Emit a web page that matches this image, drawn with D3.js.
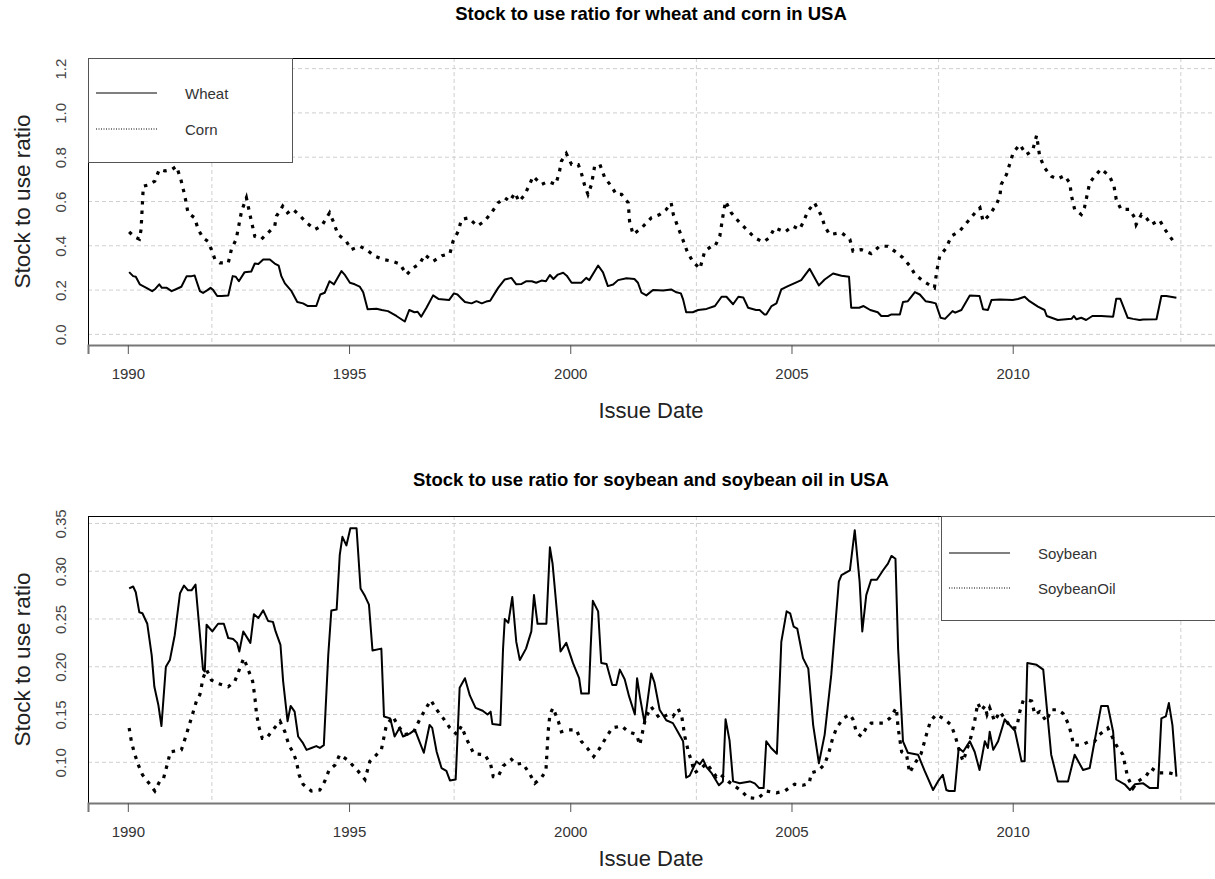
<!DOCTYPE html>
<html><head><meta charset="utf-8">
<script src="https://cdn.jsdelivr.net/npm/d3@7"></script>
<style>body{margin:0;background:#fff}svg{display:block}text{font-family:"Liberation Sans",Arial,sans-serif}</style>
</head><body><svg id="c" width="1215" height="879"></svg>
<script>
const xTicks = [1990, 1995, 2000, 2005, 2010];
const xGrid = [1991.9, 1997.375, 2002.85, 2008.325, 2013.8];
const yTicksTop = [0, 0.2, 0.4, 0.6, 0.8, 1.0, 1.2];
const yTicksBottom = [0.10, 0.15, 0.20, 0.25, 0.30, 0.35];
const titles = ["Stock to use ratio for wheat and corn in USA", "Stock to use ratio for soybean and soybean oil in USA"];
const legendTop = ["Wheat", "Corn"];
const legendBottom = ["Soybean", "SoybeanOil"];

const wheat = [[1990.03,0.281],[1990.12,0.263],[1990.18,0.26],[1990.27,0.226],[1990.42,0.21],[1990.55,0.195],[1990.62,0.205],[1990.71,0.226],[1990.77,0.21],[1990.88,0.21],[1990.99,0.195],[1991.1,0.205],[1991.21,0.215],[1991.33,0.263],[1991.44,0.263],[1991.51,0.266],[1991.63,0.195],[1991.7,0.187],[1991.8,0.2],[1991.87,0.21],[1991.93,0.2],[1992.02,0.173],[1992.12,0.173],[1992.27,0.175],[1992.37,0.263],[1992.44,0.26],[1992.51,0.24],[1992.64,0.281],[1992.79,0.284],[1992.87,0.32],[1992.95,0.318],[1993.06,0.338],[1993.21,0.338],[1993.32,0.32],[1993.41,0.31],[1993.47,0.263],[1993.55,0.23],[1993.7,0.195],[1993.83,0.146],[1993.96,0.14],[1994.07,0.128],[1994.18,0.128],[1994.26,0.128],[1994.35,0.18],[1994.45,0.188],[1994.56,0.24],[1994.66,0.226],[1994.83,0.286],[1994.9,0.27],[1995.02,0.233],[1995.13,0.226],[1995.24,0.216],[1995.32,0.19],[1995.42,0.113],[1995.62,0.116],[1995.74,0.11],[1995.88,0.105],[1996.07,0.083],[1996.26,0.058],[1996.36,0.11],[1996.48,0.1],[1996.55,0.102],[1996.63,0.08],[1996.75,0.12],[1996.9,0.176],[1997.02,0.16],[1997.26,0.155],[1997.37,0.185],[1997.45,0.18],[1997.55,0.16],[1997.62,0.146],[1997.77,0.14],[1997.88,0.15],[1998.0,0.14],[1998.1,0.148],[1998.19,0.152],[1998.37,0.21],[1998.52,0.248],[1998.67,0.255],[1998.78,0.226],[1998.9,0.228],[1999.01,0.24],[1999.13,0.24],[1999.23,0.233],[1999.35,0.243],[1999.45,0.24],[1999.54,0.268],[1999.62,0.25],[1999.72,0.27],[1999.84,0.278],[1999.92,0.265],[2000.03,0.233],[2000.25,0.233],[2000.36,0.255],[2000.43,0.245],[2000.63,0.311],[2000.74,0.28],[2000.85,0.218],[2000.97,0.225],[2001.08,0.245],[2001.27,0.253],[2001.45,0.25],[2001.53,0.233],[2001.61,0.188],[2001.72,0.176],[2001.87,0.2],[2002.1,0.198],[2002.28,0.203],[2002.4,0.19],[2002.5,0.185],[2002.55,0.158],[2002.62,0.1],[2002.77,0.1],[2002.89,0.11],[2003.08,0.115],[2003.27,0.128],[2003.42,0.17],[2003.53,0.17],[2003.68,0.136],[2003.8,0.17],[2003.91,0.167],[2004.02,0.12],[2004.2,0.11],[2004.28,0.11],[2004.39,0.09],[2004.43,0.09],[2004.55,0.128],[2004.66,0.14],[2004.77,0.203],[2004.92,0.218],[2005.11,0.235],[2005.22,0.245],[2005.41,0.296],[2005.62,0.221],[2005.75,0.248],[2005.94,0.275],[2006.13,0.265],[2006.3,0.26],[2006.35,0.12],[2006.53,0.12],[2006.63,0.128],[2006.78,0.11],[2006.95,0.1],[2007.03,0.083],[2007.18,0.083],[2007.26,0.09],[2007.45,0.09],[2007.52,0.146],[2007.63,0.15],[2007.79,0.191],[2007.9,0.18],[2008.03,0.15],[2008.16,0.145],[2008.26,0.14],[2008.37,0.075],[2008.47,0.07],[2008.64,0.105],[2008.7,0.098],[2008.84,0.11],[2009.03,0.176],[2009.25,0.173],[2009.33,0.113],[2009.44,0.11],[2009.52,0.155],[2009.71,0.158],[2010.0,0.155],[2010.12,0.16],[2010.27,0.17],[2010.38,0.15],[2010.57,0.125],[2010.72,0.11],[2010.77,0.083],[2011.02,0.065],[2011.33,0.07],[2011.38,0.083],[2011.44,0.068],[2011.55,0.075],[2011.66,0.065],[2011.8,0.083],[2012.0,0.083],[2012.27,0.08],[2012.34,0.161],[2012.43,0.161],[2012.6,0.075],[2012.72,0.07],[2012.87,0.065],[2012.95,0.067],[2013.25,0.068],[2013.36,0.173],[2013.47,0.173],[2013.7,0.165]];

const corn = [[1990.03,0.463],[1990.15,0.44],[1990.26,0.43],[1990.3,0.474],[1990.35,0.669],[1990.47,0.675],[1990.61,0.692],[1990.71,0.744],[1990.84,0.738],[1990.99,0.744],[1991.1,0.759],[1991.2,0.699],[1991.29,0.624],[1991.36,0.549],[1991.51,0.526],[1991.59,0.474],[1991.7,0.436],[1991.81,0.42],[1991.89,0.383],[1991.97,0.338],[1992.08,0.323],[1992.27,0.323],[1992.34,0.383],[1992.45,0.43],[1992.57,0.556],[1992.68,0.617],[1992.76,0.541],[1992.87,0.443],[1993.02,0.43],[1993.17,0.459],[1993.32,0.489],[1993.36,0.534],[1993.5,0.579],[1993.61,0.549],[1993.73,0.565],[1993.9,0.534],[1994.04,0.504],[1994.23,0.474],[1994.38,0.489],[1994.56,0.549],[1994.64,0.511],[1994.75,0.451],[1994.94,0.42],[1995.05,0.383],[1995.24,0.398],[1995.39,0.383],[1995.58,0.353],[1995.77,0.338],[1995.96,0.331],[1996.15,0.318],[1996.3,0.27],[1996.45,0.3],[1996.6,0.32],[1996.71,0.36],[1996.9,0.33],[1997.1,0.355],[1997.28,0.365],[1997.35,0.42],[1997.47,0.466],[1997.54,0.519],[1997.7,0.526],[1997.9,0.489],[1998.06,0.511],[1998.22,0.549],[1998.37,0.594],[1998.52,0.617],[1998.63,0.601],[1998.75,0.639],[1998.84,0.6],[1998.97,0.63],[1999.08,0.677],[1999.16,0.714],[1999.35,0.677],[1999.5,0.69],[1999.67,0.677],[1999.75,0.729],[1999.8,0.782],[1999.91,0.817],[2000.03,0.767],[2000.18,0.767],[2000.25,0.729],[2000.33,0.669],[2000.4,0.632],[2000.48,0.677],[2000.55,0.759],[2000.67,0.767],[2000.78,0.707],[2000.93,0.669],[2001.04,0.632],[2001.16,0.632],[2001.31,0.594],[2001.34,0.511],[2001.42,0.451],[2001.61,0.48],[2001.83,0.526],[2002.02,0.541],[2002.17,0.564],[2002.28,0.594],[2002.33,0.541],[2002.44,0.481],[2002.54,0.43],[2002.64,0.376],[2002.76,0.331],[2002.93,0.296],[2003.04,0.376],[2003.19,0.398],[2003.27,0.398],[2003.38,0.443],[2003.45,0.534],[2003.51,0.601],[2003.64,0.549],[2003.8,0.511],[2003.98,0.474],[2004.17,0.436],[2004.36,0.417],[2004.5,0.436],[2004.62,0.481],[2004.85,0.462],[2005.03,0.489],[2005.18,0.474],[2005.26,0.504],[2005.37,0.556],[2005.52,0.594],[2005.68,0.534],[2005.75,0.489],[2005.86,0.451],[2006.13,0.459],[2006.32,0.429],[2006.39,0.376],[2006.58,0.383],[2006.8,0.365],[2006.99,0.398],[2007.18,0.398],[2007.33,0.376],[2007.52,0.346],[2007.68,0.308],[2007.79,0.271],[2007.98,0.24],[2008.16,0.218],[2008.23,0.21],[2008.29,0.293],[2008.35,0.353],[2008.5,0.391],[2008.61,0.443],[2008.8,0.466],[2008.99,0.511],[2009.18,0.556],[2009.26,0.571],[2009.33,0.511],[2009.48,0.541],[2009.63,0.586],[2009.71,0.624],[2009.74,0.677],[2009.86,0.722],[2010.01,0.82],[2010.16,0.857],[2010.31,0.812],[2010.45,0.83],[2010.54,0.898],[2010.61,0.804],[2010.72,0.752],[2010.87,0.714],[2011.02,0.702],[2011.17,0.717],[2011.29,0.684],[2011.33,0.624],[2011.4,0.564],[2011.55,0.541],[2011.62,0.571],[2011.74,0.684],[2011.85,0.714],[2012.0,0.747],[2012.19,0.714],[2012.29,0.669],[2012.34,0.609],[2012.45,0.564],[2012.64,0.564],[2012.76,0.526],[2012.79,0.496],[2012.91,0.541],[2013.02,0.526],[2013.13,0.496],[2013.32,0.516],[2013.44,0.474],[2013.52,0.451],[2013.63,0.421]];

const soybean = [[1990.03,0.282],[1990.12,0.284],[1990.18,0.278],[1990.26,0.257],[1990.33,0.256],[1990.44,0.245],[1990.54,0.212],[1990.6,0.179],[1990.69,0.16],[1990.76,0.138],[1990.86,0.2],[1990.95,0.207],[1991.06,0.233],[1991.18,0.277],[1991.27,0.285],[1991.36,0.28],[1991.44,0.28],[1991.53,0.286],[1991.61,0.244],[1991.7,0.197],[1991.74,0.195],[1991.78,0.244],[1991.91,0.237],[1992.04,0.245],[1992.17,0.245],[1992.27,0.23],[1992.38,0.229],[1992.47,0.225],[1992.52,0.216],[1992.61,0.237],[1992.77,0.225],[1992.85,0.255],[1992.95,0.251],[1993.06,0.259],[1993.17,0.248],[1993.28,0.247],[1993.34,0.237],[1993.45,0.223],[1993.51,0.185],[1993.61,0.143],[1993.68,0.159],[1993.77,0.153],[1993.85,0.127],[1993.96,0.12],[1994.04,0.113],[1994.15,0.115],[1994.26,0.117],[1994.34,0.115],[1994.43,0.118],[1994.53,0.212],[1994.6,0.259],[1994.72,0.26],[1994.79,0.317],[1994.85,0.336],[1994.94,0.327],[1995.03,0.345],[1995.17,0.345],[1995.26,0.282],[1995.36,0.274],[1995.45,0.265],[1995.53,0.217],[1995.73,0.219],[1995.79,0.148],[1995.93,0.146],[1996.03,0.127],[1996.14,0.136],[1996.22,0.127],[1996.37,0.13],[1996.49,0.134],[1996.59,0.122],[1996.69,0.11],[1996.82,0.139],[1996.88,0.136],[1996.98,0.111],[1997.09,0.094],[1997.2,0.091],[1997.28,0.081],[1997.41,0.082],[1997.5,0.178],[1997.62,0.188],[1997.73,0.17],[1997.86,0.157],[1998.02,0.154],[1998.13,0.15],[1998.2,0.153],[1998.24,0.14],[1998.42,0.139],[1998.48,0.218],[1998.52,0.25],[1998.6,0.246],[1998.69,0.273],[1998.78,0.226],[1998.86,0.207],[1999.0,0.219],[1999.12,0.237],[1999.18,0.275],[1999.26,0.245],[1999.46,0.245],[1999.54,0.325],[1999.6,0.308],[1999.78,0.216],[1999.91,0.225],[2000.06,0.204],[2000.2,0.188],[2000.25,0.172],[2000.42,0.172],[2000.46,0.219],[2000.51,0.269],[2000.63,0.258],[2000.7,0.204],[2000.82,0.203],[2000.95,0.181],[2001.04,0.181],[2001.12,0.197],[2001.23,0.187],[2001.33,0.169],[2001.46,0.15],[2001.51,0.188],[2001.58,0.167],[2001.68,0.141],[2001.83,0.193],[2001.9,0.184],[2002.02,0.155],[2002.17,0.144],[2002.32,0.141],[2002.43,0.132],[2002.55,0.122],[2002.62,0.084],[2002.7,0.086],[2002.85,0.101],[2002.93,0.098],[2003.0,0.103],[2003.08,0.095],[2003.19,0.089],[2003.36,0.076],[2003.45,0.08],[2003.51,0.145],[2003.6,0.123],[2003.68,0.08],[2003.83,0.078],[2004.06,0.08],[2004.17,0.078],[2004.27,0.073],[2004.37,0.073],[2004.43,0.122],[2004.54,0.115],[2004.67,0.109],[2004.77,0.226],[2004.89,0.258],[2004.97,0.256],[2005.05,0.242],[2005.13,0.24],[2005.26,0.209],[2005.38,0.198],[2005.49,0.139],[2005.62,0.099],[2005.75,0.129],[2005.9,0.192],[2006.07,0.289],[2006.13,0.296],[2006.32,0.301],[2006.43,0.343],[2006.54,0.289],[2006.6,0.237],[2006.69,0.275],[2006.8,0.291],[2006.93,0.291],[2007.07,0.301],[2007.18,0.308],[2007.26,0.316],[2007.35,0.313],[2007.41,0.219],[2007.52,0.122],[2007.63,0.11],[2007.86,0.108],[2008.01,0.091],[2008.2,0.071],[2008.31,0.08],[2008.42,0.087],[2008.5,0.071],[2008.56,0.07],[2008.69,0.07],[2008.78,0.115],[2008.88,0.111],[2009.03,0.122],[2009.14,0.111],[2009.25,0.092],[2009.37,0.122],[2009.44,0.115],[2009.48,0.132],[2009.56,0.113],[2009.67,0.122],[2009.82,0.145],[2009.93,0.139],[2010.05,0.133],[2010.2,0.101],[2010.27,0.101],[2010.33,0.204],[2010.54,0.202],[2010.69,0.197],[2010.87,0.108],[2011.02,0.08],[2011.25,0.08],[2011.4,0.108],[2011.59,0.092],[2011.74,0.094],[2011.85,0.122],[2012.0,0.159],[2012.15,0.159],[2012.27,0.132],[2012.34,0.082],[2012.53,0.077],[2012.65,0.071],[2012.76,0.077],[2012.95,0.078],[2013.1,0.073],[2013.28,0.073],[2013.36,0.146],[2013.46,0.148],[2013.53,0.162],[2013.61,0.139],[2013.7,0.085]];

const soybeanOil = [[1990.03,0.136],[1990.08,0.122],[1990.14,0.111],[1990.23,0.098],[1990.33,0.087],[1990.48,0.078],[1990.61,0.07],[1990.72,0.08],[1990.8,0.082],[1990.91,0.101],[1990.96,0.111],[1991.21,0.113],[1991.31,0.127],[1991.46,0.15],[1991.55,0.164],[1991.63,0.171],[1991.7,0.188],[1991.78,0.197],[1991.89,0.186],[1992.0,0.183],[1992.27,0.179],[1992.42,0.185],[1992.52,0.197],[1992.62,0.209],[1992.72,0.197],[1992.82,0.185],[1992.87,0.169],[1992.91,0.15],[1992.97,0.136],[1993.04,0.125],[1993.13,0.125],[1993.28,0.134],[1993.44,0.143],[1993.55,0.132],[1993.64,0.118],[1993.74,0.11],[1993.81,0.101],[1993.87,0.087],[1993.96,0.077],[1994.15,0.07],[1994.34,0.071],[1994.45,0.08],[1994.55,0.092],[1994.68,0.097],[1994.79,0.108],[1994.98,0.102],[1995.2,0.091],[1995.36,0.082],[1995.47,0.101],[1995.58,0.106],[1995.73,0.113],[1995.84,0.138],[1995.99,0.148],[1996.11,0.138],[1996.26,0.129],[1996.45,0.131],[1996.6,0.145],[1996.73,0.156],[1996.85,0.165],[1996.98,0.155],[1997.13,0.146],[1997.28,0.136],[1997.44,0.129],[1997.54,0.138],[1997.65,0.125],[1997.82,0.109],[1998.07,0.108],[1998.2,0.098],[1998.26,0.085],[1998.37,0.085],[1998.48,0.096],[1998.67,0.103],[1998.78,0.098],[1998.92,0.099],[1999.07,0.089],[1999.2,0.078],[1999.35,0.084],[1999.45,0.091],[1999.5,0.132],[1999.54,0.15],[1999.61,0.157],[1999.73,0.143],[1999.8,0.132],[1999.95,0.134],[2000.14,0.134],[2000.25,0.122],[2000.4,0.114],[2000.53,0.106],[2000.67,0.115],[2000.81,0.126],[2000.95,0.136],[2001.16,0.138],[2001.31,0.132],[2001.5,0.129],[2001.57,0.118],[2001.7,0.146],[2001.83,0.158],[2002.02,0.146],[2002.21,0.15],[2002.32,0.148],[2002.44,0.156],[2002.52,0.148],[2002.59,0.127],[2002.67,0.111],[2002.74,0.101],[2002.81,0.089],[2002.97,0.094],[2003.08,0.099],[2003.19,0.092],[2003.3,0.085],[2003.38,0.088],[2003.57,0.08],[2003.72,0.075],[2003.87,0.07],[2004.02,0.063],[2004.24,0.062],[2004.43,0.07],[2004.66,0.068],[2004.85,0.07],[2005.07,0.077],[2005.26,0.076],[2005.4,0.078],[2005.45,0.089],[2005.6,0.091],[2005.75,0.098],[2005.85,0.111],[2005.93,0.125],[2006.02,0.136],[2006.17,0.146],[2006.32,0.15],[2006.39,0.145],[2006.47,0.131],[2006.58,0.127],[2006.69,0.136],[2006.8,0.141],[2007.07,0.141],[2007.22,0.146],[2007.37,0.157],[2007.41,0.136],[2007.49,0.111],[2007.6,0.108],[2007.67,0.089],[2007.79,0.099],[2007.93,0.109],[2008.05,0.129],[2008.14,0.143],[2008.27,0.15],[2008.46,0.145],[2008.61,0.139],[2008.71,0.126],[2008.8,0.111],[2008.88,0.101],[2009.06,0.127],[2009.14,0.143],[2009.21,0.162],[2009.29,0.154],[2009.37,0.159],[2009.42,0.15],[2009.48,0.157],[2009.59,0.143],[2009.71,0.153],[2009.86,0.143],[2009.97,0.136],[2010.09,0.136],[2010.16,0.153],[2010.24,0.165],[2010.35,0.165],[2010.43,0.164],[2010.5,0.15],[2010.61,0.153],[2010.76,0.143],[2010.87,0.155],[2011.02,0.155],[2011.14,0.151],[2011.25,0.141],[2011.33,0.129],[2011.37,0.118],[2011.55,0.118],[2011.74,0.122],[2011.85,0.122],[2011.96,0.129],[2012.15,0.136],[2012.34,0.118],[2012.49,0.108],[2012.6,0.084],[2012.72,0.073],[2012.83,0.08],[2013.02,0.086],[2013.13,0.094],[2013.28,0.089],[2013.53,0.089],[2013.7,0.087]];

const svg = d3.select("#c");
const L = 88, R = 1218;
const x = d3.scaleLinear().domain([1989.1, 2014.64]).range([L, R]);

function panel(cfg) {
  const y = d3.scaleLinear().domain(cfg.yDomain).range([cfg.bottom, cfg.top]);
  const g = svg.append("g");
  // grid
  g.selectAll(".gx").data(xGrid).join("line")
    .attr("x1", d => x(d)).attr("x2", d => x(d)).attr("y1", cfg.top).attr("y2", cfg.bottom)
    .attr("stroke", "#cfcfcf").attr("stroke-dasharray", "4,3").attr("stroke-width", 1);
  g.selectAll(".gy").data(cfg.yTicks).join("line")
    .attr("x1", L).attr("x2", R).attr("y1", d => y(d)).attr("y2", d => y(d))
    .attr("stroke", "#cfcfcf").attr("stroke-dasharray", "4,3").attr("stroke-width", 1);
  // series
  const line = d3.line().x(d => x(d[0])).y(d => y(d[1]));
  g.append("path").datum(cfg.s1).attr("d", line).attr("fill", "none")
    .attr("stroke", "#000").attr("stroke-width", 2).attr("stroke-linejoin", "round");
  g.append("path").datum(cfg.s2).attr("d", line).attr("fill", "none")
    .attr("stroke", "#000").attr("stroke-width", 3.2).attr("stroke-dasharray", "3.5,6");
  // box
  g.append("rect").attr("x", L + 0.5).attr("y", cfg.top + 0.5).attr("width", R - L).attr("height", cfg.bottom - cfg.top)
    .attr("fill", "none").attr("stroke", "#000").attr("stroke-width", 1);
  // x axis
  const ax = g.append("g").attr("transform", `translate(0,${cfg.bottom})`)
    .call(d3.axisBottom(x).tickValues(xTicks).tickFormat(d3.format("d")).tickSize(9).tickPadding(14));
  ax.select(".domain").attr("stroke", "#777").attr("stroke-width", 2);
  ax.selectAll(".tick line").attr("stroke", "#555");
  ax.selectAll(".tick text").attr("font-size", 15).attr("fill", "#333")
    .attr("font-family", "Liberation Sans, Arial, sans-serif");
  // y axis labels (no tick marks)
  const ay = g.append("g").attr("transform", `translate(${L},0)`)
    .call(d3.axisLeft(y).tickValues(cfg.yTicks).tickFormat(cfg.yFmt).tickSize(0).tickPadding(0));
  ay.select(".domain").remove();
  ay.selectAll(".tick text").attr("font-size", 15).attr("fill", "#444")
    .attr("font-family", "Liberation Sans, Arial, sans-serif")
    .attr("text-anchor", "middle").attr("x", 0).attr("dy", 0)
    .attr("transform", "translate(-27,0) rotate(-90)").attr("y", 5);
  // titles
  svg.append("text").attr("x", (L + R) / 2 - 2).attr("y", cfg.titleY).attr("text-anchor", "middle")
    .attr("font-size", 18.5).attr("font-weight", "bold").attr("fill", "#000").text(cfg.title);
  svg.append("text").attr("x", (L + R) / 2 - 2).attr("y", cfg.xLabY).attr("text-anchor", "middle")
    .attr("font-size", 22).attr("fill", "#222").text("Issue Date");
  svg.append("text").attr("transform", `translate(30,${(cfg.top + cfg.bottom) / 2}) rotate(-90)`)
    .attr("text-anchor", "middle").attr("font-size", 22.5).attr("fill", "#222").text("Stock to use ratio");
  // legend
  const lg = cfg.legend;
  g.append("rect").attr("x", lg.x + 0.5).attr("y", cfg.top + 0.5).attr("width", lg.w).attr("height", lg.h)
    .attr("fill", "#fff").attr("stroke", "#555").attr("stroke-width", 1);
  lg.labels.forEach((lab, i) => {
    const yy = cfg.top + lg.dy[i];
    g.append("line").attr("x1", lg.x + 8).attr("x2", lg.x + 69).attr("y1", yy).attr("y2", yy)
      .attr("stroke", "#000").attr("stroke-width", 1).attr("stroke-dasharray", i ? "1,1.5" : null);
    g.append("text").attr("x", lg.x + 97).attr("y", yy + 5.5).attr("font-size", 15).attr("fill", "#333").text(lab);
  });
}

panel({top: 58, bottom: 345, yDomain: [-0.048, 1.248], yTicks: yTicksTop, yFmt: d3.format(".1f"),
  s1: wheat, s2: corn, title: titles[0], titleY: 20, xLabY: 418,
  legend: {x: L, w: 204, h: 104, labels: legendTop, dy: [35, 71]}});
panel({top: 516, bottom: 803, yDomain: [0.0574, 0.3578], yTicks: yTicksBottom, yFmt: d3.format(".2f"),
  s1: soybean, s2: soybeanOil, title: titles[1], titleY: 486, xLabY: 866,
  legend: {x: 941, w: 300, h: 104, labels: legendBottom, dy: [37, 72]}});
</script></body></html>
